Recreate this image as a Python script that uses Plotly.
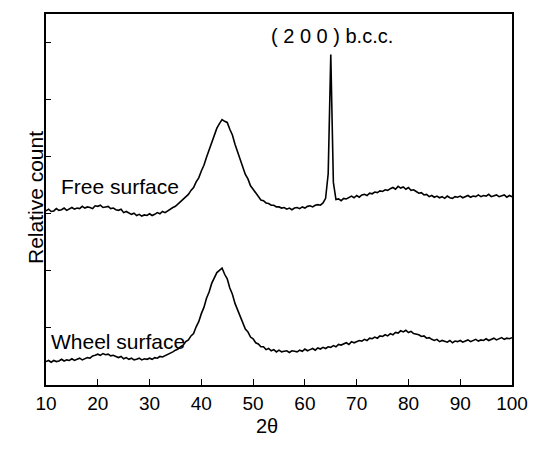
import plotly.graph_objects as go

# 2-theta scan grid (degrees), 0.5 degree step from 10 to 100
two_theta = [10 + 0.5 * i for i in range(181)]

free_surface = [
    3.05, 3.08, 3.04, 3.05, 3.09, 3.06, 3.07, 3.10, 3.06, 3.09,
    3.11, 3.08, 3.10, 3.09, 3.13, 3.10, 3.12, 3.11, 3.09, 3.14,
    3.13, 3.15, 3.11, 3.12, 3.13, 3.09, 3.10, 3.07, 3.06, 3.08,
    3.02, 3.04, 3.01, 2.99, 3.01, 2.97, 2.99, 2.96, 2.98, 2.97,
    3.00, 2.97, 2.99, 3.02, 3.00, 3.04, 3.02, 3.05, 3.09, 3.11,
    3.13, 3.17, 3.21, 3.25, 3.30, 3.34, 3.41, 3.46, 3.56, 3.63,
    3.75, 3.85, 3.99, 4.11, 4.25, 4.37, 4.50, 4.58, 4.65, 4.62,
    4.60, 4.48, 4.38, 4.22, 4.09, 3.95, 3.83, 3.69, 3.61, 3.49,
    3.43, 3.36, 3.30, 3.24, 3.23, 3.19, 3.18, 3.15, 3.15, 3.12,
    3.12, 3.10, 3.11, 3.08, 3.10, 3.07, 3.10, 3.11, 3.09, 3.12,
    3.10, 3.13, 3.14, 3.12, 3.15, 3.16, 3.15, 3.19, 3.27, 3.70,
    5.79, 3.55, 3.25, 3.26, 3.23, 3.27, 3.26, 3.28, 3.31, 3.28,
    3.32, 3.29, 3.33, 3.34, 3.32, 3.36, 3.35, 3.38, 3.37, 3.40,
    3.39, 3.42, 3.41, 3.44, 3.46, 3.43, 3.48, 3.45, 3.47, 3.43,
    3.46, 3.41, 3.42, 3.39, 3.36, 3.37, 3.33, 3.34, 3.30, 3.32,
    3.29, 3.31, 3.28, 3.30, 3.27, 3.31, 3.28, 3.27, 3.30, 3.29,
    3.31, 3.28, 3.30, 3.32, 3.29, 3.31, 3.30, 3.33, 3.30, 3.32,
    3.31, 3.34, 3.30, 3.32, 3.33, 3.30, 3.31, 3.33, 3.29, 3.32,
    3.30,
]

wheel_surface = [
    0.41, 0.43, 0.40, 0.43, 0.41, 0.42, 0.45, 0.42, 0.44, 0.43,
    0.46, 0.43, 0.45, 0.47, 0.44, 0.46, 0.48, 0.47, 0.51, 0.52,
    0.54, 0.52, 0.55, 0.53, 0.54, 0.51, 0.52, 0.50, 0.48, 0.50,
    0.46, 0.48, 0.45, 0.47, 0.44, 0.45, 0.47, 0.44, 0.46, 0.45,
    0.47, 0.45, 0.48, 0.47, 0.50, 0.49, 0.51, 0.54, 0.55, 0.58,
    0.61, 0.63, 0.67, 0.70, 0.76, 0.79, 0.86, 0.90, 1.02, 1.11,
    1.25, 1.36, 1.52, 1.63, 1.78, 1.87, 1.97, 2.01, 2.05, 1.94,
    1.86, 1.70, 1.59, 1.43, 1.32, 1.18, 1.09, 0.98, 0.93, 0.84,
    0.81, 0.74, 0.72, 0.67, 0.67, 0.62, 0.64, 0.60, 0.62, 0.58,
    0.61, 0.58, 0.59, 0.60, 0.57, 0.60, 0.59, 0.58, 0.61, 0.59,
    0.63, 0.60, 0.62, 0.64, 0.61, 0.65, 0.63, 0.66, 0.64, 0.67,
    0.66, 0.69, 0.67, 0.71, 0.70, 0.72, 0.74, 0.71, 0.76, 0.74,
    0.76, 0.78, 0.77, 0.80, 0.78, 0.82, 0.81, 0.84, 0.82, 0.86,
    0.85, 0.88, 0.86, 0.90, 0.88, 0.92, 0.91, 0.95, 0.93, 0.96,
    0.92, 0.94, 0.90, 0.89, 0.88, 0.85, 0.86, 0.82, 0.83, 0.80,
    0.78, 0.80, 0.76, 0.78, 0.77, 0.75, 0.78, 0.74, 0.77, 0.76,
    0.78, 0.75, 0.77, 0.79, 0.76, 0.78, 0.80, 0.77, 0.79, 0.78,
    0.81, 0.78, 0.80, 0.82, 0.79, 0.81, 0.83, 0.80, 0.82, 0.81,
    0.83,
]

x_ticks = [10, 20, 30, 40, 50, 60, 70, 80, 90, 100]
y_ticks = [1, 2, 3, 4, 5, 6]

assert len(free_surface) == len(two_theta) == len(wheel_surface)

FONT = "Liberation Sans, Arial, sans-serif"

fig = go.Figure()
fig.add_trace(go.Scatter(x=two_theta, y=free_surface, mode="lines",
                         line=dict(color="black", width=1.6), name="Free surface"))
fig.add_trace(go.Scatter(x=two_theta, y=wheel_surface, mode="lines",
                         line=dict(color="black", width=1.6), name="Wheel surface"))

fig.add_annotation(x=65.2, y=6.12, xref="x", yref="y", text="( 2 0 0 ) b.c.c.",
                   showarrow=False, font=dict(family=FONT, size=20, color="black"))
fig.add_annotation(x=12.6, y=3.47, xref="x", yref="y", text="Free surface",
                   xanchor="left", showarrow=False, font=dict(family=FONT, size=21, color="black"))
fig.add_annotation(x=10.6, y=0.77, xref="x", yref="y", text="Wheel surface",
                   xanchor="left", showarrow=False, font=dict(family=FONT, size=21, color="black"))
# axis titles (given in pixel positions, converted below)
fig.add_annotation(x=272, y=439, xref="paper", yref="paper", text="2θ",
                   showarrow=False, font=dict(family=FONT, size=20, color="black"))
fig.add_annotation(x=21, y=198, xref="paper", yref="paper", text="Relative count",
                   textangle=-90, showarrow=False, font=dict(family=FONT, size=21, color="black"))

L, R, T, B = 46, 18, 14, 64
W, H = 540, 449
pw, ph = W - L - R, H - T - B
for ann in fig.layout.annotations:
    if ann.xref == "paper":
        px, py = ann.x, ann.y
        ann.x = (px - L) / pw
        ann.y = (H - B - py) / ph

fig.update_layout(
    width=W, height=H,
    margin=dict(l=L, r=R, t=T, b=B),
    paper_bgcolor="white", plot_bgcolor="white",
    showlegend=False,
    font=dict(family=FONT, color="black"),
)
fig.update_xaxes(range=[10, 100], tickvals=x_ticks, ticks="inside", ticklen=6,
                 tickcolor="black", tickwidth=1.3, showline=True, linecolor="black",
                 linewidth=1.5, mirror=True, showgrid=False, zeroline=False,
                 tickfont=dict(family=FONT, size=19, color="black"))
fig.update_yaxes(range=[0, 6.5], tickvals=y_ticks, ticks="inside", ticklen=5,
                 tickcolor="black", tickwidth=1.3, showticklabels=False, showline=True,
                 linecolor="black", linewidth=1.5, mirror=True, showgrid=False,
                 zeroline=False)

fig.write_html("out.html")
